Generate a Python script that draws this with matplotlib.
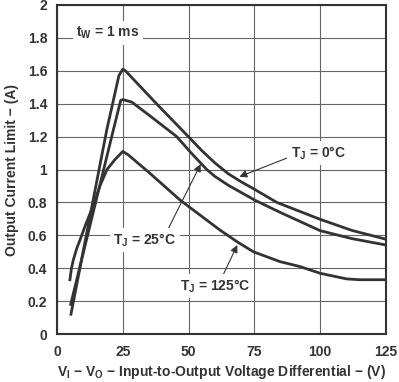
import matplotlib.pyplot as plt

plt.rcParams['font.family'] = ['Liberation Sans', 'DejaVu Sans']
plt.rcParams['font.weight'] = 'bold'
plt.rcParams['axes.labelweight'] = 'bold'
plt.rcParams['mathtext.fontset'] = 'custom'
plt.rcParams['mathtext.rm'] = 'Liberation Sans:bold'
plt.rcParams['mathtext.it'] = 'Liberation Sans:bold'
plt.rcParams['mathtext.default'] = 'rm'

# T_J = 0 C
v_0c = [5.3, 18.9, 23.5, 25, 26, 37.2, 49.9, 55, 60, 65, 70, 75, 83.5, 100, 112, 125]
i_0c = [0.12, 1.24, 1.57, 1.61, 1.60, 1.41, 1.20, 1.115, 1.04, 0.975, 0.925, 0.88, 0.80, 0.697, 0.63, 0.576]

# T_J = 25 C
v_25c = [5.2, 21.4, 24.2, 25, 28.4, 35, 45.5, 51, 56.9, 60, 65, 70, 75, 84.7, 100, 112, 125]
i_25c = [0.18, 1.24, 1.42, 1.425, 1.41, 1.33, 1.20, 1.10, 1.0, 0.958, 0.905, 0.86, 0.815, 0.74, 0.628, 0.58, 0.541]

# T_J = 125 C
v_125c = [4.9, 5.5, 6.2, 7.5, 8.7, 11, 13.5, 16.3, 19, 22, 25, 27, 35.3, 46.7, 61.9, 68.5, 74.6, 84.7, 92.3, 100, 110, 115, 125]
i_125c = [0.33, 0.40, 0.45, 0.52, 0.57, 0.67, 0.77, 0.90, 1.0, 1.06, 1.11, 1.09, 0.977, 0.815, 0.632, 0.56, 0.50, 0.44, 0.41, 0.369, 0.335, 0.33, 0.33]

x_ticks = [0, 25, 50, 75, 100, 125]
y_ticks = [0, 0.2, 0.4, 0.6, 0.8, 1.0, 1.2, 1.4, 1.6, 1.8, 2.0]
y_labels = ['0', '0.2', '0.4', '0.6', '0.8', '1', '1.2', '1.4', '1.6', '1.8', '2']

dark = '#333333'

fig = plt.figure(figsize=(3.99, 3.82), dpi=100)
ax = fig.add_axes([57 / 399, 1 - 334 / 382, 329 / 399, 329 / 382])

for v, i in [(v_0c, i_0c), (v_25c, i_25c), (v_125c, i_125c)]:
    ax.plot(v, i, color=dark, lw=2.0, solid_joinstyle='round', zorder=3)

ax.set_xlim(0, 125)
ax.set_ylim(0, 2)
ax.set_xticks(x_ticks)
ax.set_yticks(y_ticks)
ax.set_yticklabels(y_labels)
ax.tick_params(length=0, labelsize=10, colors=dark)
ax.tick_params(axis='x', pad=8)
ax.tick_params(axis='y', pad=7)
ax.set_axisbelow(True)
ax.grid(True, color='#666666', lw=0.8)
for s in ax.spines.values():
    s.set_color(dark)
    s.set_linewidth(1.5)

ax.set_xlabel('V$_I$ − V$_O$ − Input-to-Output Voltage Differential − (V)',
              fontsize=10, color=dark, labelpad=3)
ax.set_ylabel('Output Current Limit − (A)', fontsize=10, color=dark, labelpad=6)

box = dict(boxstyle='square,pad=0.25', fc='white', ec='none')
arrow = dict(arrowstyle='-|>', color=dark, lw=0.8, mutation_scale=11,
             shrinkA=0, shrinkB=0)

ax.text(19.4, 1.83, 't$_W$ = 1 ms', fontsize=10, color=dark,
        ha='center', va='center', bbox=box)
ax.annotate('T$_J$ = 0°C', xy=(69.3, 0.956), xytext=(99.3, 1.10),
            fontsize=10, color=dark, ha='center', va='center', bbox=box,
            arrowprops=dict(arrow, relpos=(0, 0.3)))
ax.annotate('T$_J$ = 25°C', xy=(54.6, 1.033), xytext=(33.4, 0.571),
            fontsize=10, color=dark, ha='center', va='center', bbox=box,
            arrowprops=dict(arrow, relpos=(0.85, 1.0)))
ax.annotate('T$_J$ = 125°C', xy=(68.5, 0.541), xytext=(60.0, 0.292),
            fontsize=10, color=dark, ha='center', va='center', bbox=box,
            arrowprops=dict(arrow, relpos=(0.6, 1.0)))

fig.savefig('out.png', dpi=100)
